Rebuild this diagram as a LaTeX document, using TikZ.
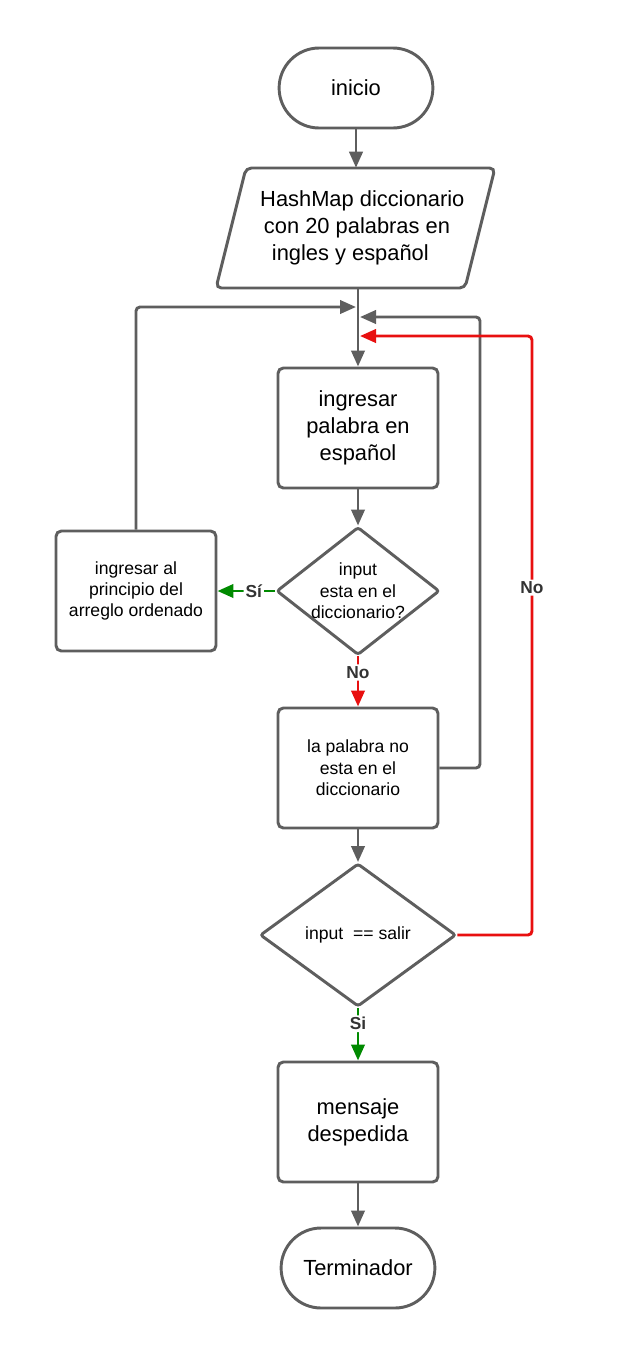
\documentclass[tikz,border=0pt]{standalone}
\usepackage{fontspec}
\setmainfont{Liberation Sans}
\usetikzlibrary{shapes.geometric,shapes.misc,arrows.meta}
\definecolor{lc}{HTML}{5E5E5E}
\definecolor{rc}{HTML}{E81010}
\definecolor{gc}{HTML}{008A00}
\definecolor{tc}{HTML}{333333}
\begin{document}
\begin{tikzpicture}[x=0.75pt,y=-0.75pt,
  shp/.style={draw=lc, line width=2.2pt, fill=white},
  big/.style={font=\fontsize{16.4}{20}\selectfont},
  small/.style={font=\fontsize{13.2}{16}\selectfont},
  proc/.style={shp, rounded corners=4pt, minimum width=120pt, minimum height=90pt, align=center, big},
  procs/.style={proc, small},
  term/.style={shp, rounded rectangle, minimum width=122pt, minimum height=60pt, big},
  decision/.style={shp, diamond, rounded corners=2pt, inner sep=0pt},
  ln/.style={draw=lc, line width=2.2pt, rounded corners=3pt},
  arr/.style={ln, -{Triangle[length=12pt,width=10pt]}},
  lbl/.style={fill=white, inner sep=1.5pt, text=tc, font=\fontsize{13}{15}\selectfont\bfseries},
]
\useasboundingbox (0,0) rectangle (637,1365);

% nodes
\node[term] (ini) at (356,88) {inicio};
\node[minimum width=180pt, minimum height=90pt, inner sep=0pt] (hm) at (358,228) {};
\draw[shp, rounded corners=4pt] (246,168) -- (495,168) -- (465,288) -- (216,288) -- cycle;
\node[big, align=center] (hmt) at (357,228)
      {\hspace*{8pt}HashMap diccionario\\con 20 palabras en\\ingles y español\hspace*{10pt}};

\node[proc] (ing) at (358,428) {ingresar\\palabra en\\español};
\node[decision, minimum width=122.25pt, minimum height=96pt] (d1) at (358,591) {};
\node[small, align=center] (d1t) at (d1) {input\\esta en el\\diccionario?};
\node[procs] (lb) at (136,591) {ingresar al\\principio del\\arreglo ordenado};
\node[procs] (nd) at (358,768) {la palabra no\\esta en el\\diccionario};
\node[decision, minimum width=147pt, minimum height=107.25pt] (d2) at (358,935) {};
\node[small] (d2t) at (d2) {input~ == salir};
\node[proc] (msg) at (358,1122) {mensaje\\despedida};
\node[term] (fin) at (358,1268) {Terminador};

% junction coordinates
\coordinate (j1) at (356,307);
\coordinate (j2) at (360,317);
\coordinate (j3) at (360,336);

% connectors
\draw[arr] (ini.south) -- (ini.south |- hm.north);
\draw[arr] (hm.south) -- (ing.north);
\draw[arr] (ing.south) -- (d1.north);
\draw[arr, draw=gc] (d1.west) -- (lb.east) node[lbl, pos=0.37] {Sí};
\draw[arr] (lb.north) |- (j1);
\draw[arr, draw=rc] (d1.south) -- (nd.north) node[lbl, pos=0.32] {No};
\draw[arr] (nd.east) -- (480,768) |- (j2);
\draw[arr] (nd.south) -- (d2.north);
\draw[arr, draw=rc] (d2.east) -- (532,935) |- (j3) node[lbl, pos=0.29] {No};
\draw[arr, draw=gc] (d2.south) -- (msg.north) node[lbl, pos=0.3] {Si};
\draw[arr] (msg.south) -- (fin.north);
\end{tikzpicture}
\end{document}
